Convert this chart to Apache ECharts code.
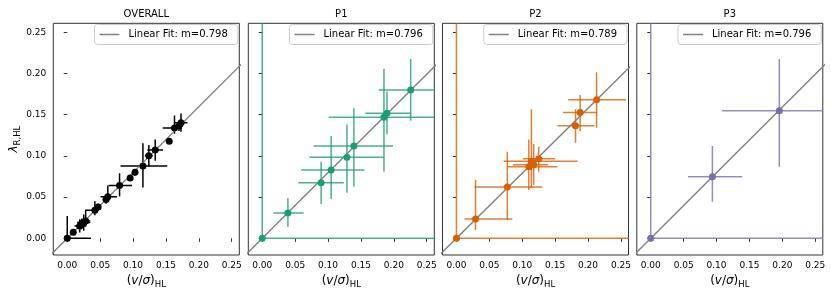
<!DOCTYPE html>
<html><head><meta charset="utf-8">
<script src="https://cdn.jsdelivr.net/npm/echarts@6/dist/echarts.min.js"></script>
<style>html,body{margin:0;padding:0;background:#fff}#c{width:831px;height:297px}</style>
</head><body><div id="c"></div>
<script>
const panelTitles = ['OVERALL', 'P1', 'P2', 'P3'];
const slopes = [0.798, 0.796, 0.789, 0.796];
const tickValues = [0, 0.05, 0.10, 0.15, 0.20, 0.25];

// OVERALL
const ovX   = [0, 0.0091, 0.019, 0.022, 0.025, 0.028, 0.042, 0.047, 0.059, 0.0616, 0.0795, 0.0956, 0.103, 0.115, 0.124, 0.1337, 0.155, 0.163, 0.1698, 0.1729];
const ovY   = [0, 0.0073, 0.015, 0.018, 0.019, 0.021, 0.034, 0.038, 0.047, 0.0505, 0.064, 0.073, 0.080, 0.0877, 0.1002, 0.107, 0.1177, 0.1339, 0.1363, 0.1403];
const ovXLo = [0, 0.002, 0.008, 0.006, 0.010, 0.007, 0.015, 0.004, 0.005, 0.011, 0.0167, 0.003, 0.003, 0.034, 0.006, 0.012, 0, 0.018, 0.006, 0.010];
const ovXHi = [0.036, 0.002, 0.008, 0.006, 0.010, 0.007, 0.004, 0.004, 0.005, 0.014, 0.019, 0.003, 0.003, 0.037, 0.006, 0.012, 0, 0.005, 0.006, 0.010];
const ovYLo = [0, 0.002, 0.008, 0.006, 0.010, 0.007, 0.006, 0.004, 0.005, 0.006, 0.0134, 0.003, 0.004, 0.026, 0.013, 0.013, 0, 0.007, 0.006, 0.011];
const ovYHi = [0.027, 0.002, 0.008, 0.006, 0.010, 0.012, 0.011, 0.004, 0.005, 0.0135, 0.015, 0.003, 0.004, 0.0276, 0.013, 0.013, 0, 0.015, 0.006, 0.011];

// P1
const p1X   = [0, 0.039, 0.0895, 0.1047, 0.1287, 0.1393, 0.185, 0.1896, 0.2256];
const p1Y   = [0, 0.0307, 0.0675, 0.0829, 0.0983, 0.112, 0.1468, 0.1517, 0.18];
const p1XLo = [0, 0.022, 0.0346, 0.0457, 0.057, 0.0615, 0.084, 0.033, 0.0486];
const p1XHi = [0.3, 0.024, 0.0345, 0.0508, 0.0558, 0.0595, 0.084, 0.0356, 0.048];
const p1YLo = [0, 0.017, 0.026, 0.0356, 0.043, 0.0494, 0.066, 0.0257, 0.0373];
const p1YHi = [0.3, 0.0182, 0.0255, 0.0411, 0.0397, 0.0458, 0.059, 0.0263, 0.0376];

// P2
const p2X   = [0, 0.029, 0.0773, 0.110, 0.1139, 0.1174, 0.125, 0.181, 0.188, 0.213];
const p2Y   = [0, 0.0234, 0.0623, 0.0869, 0.0934, 0.0893, 0.0966, 0.1367, 0.1525, 0.168];
const p2XLo = [0, 0.0168, 0.0499, 0.0317, 0.0422, 0.0314, 0.024, 0.0275, 0.026, 0.0432];
const p2XHi = [0.3, 0.0559, 0.0533, 0.0435, 0.0701, 0.0216, 0.025, 0.0284, 0.026, 0.0446];
const p2YLo = [0, 0.0133, 0.0401, 0.0283, 0.0327, 0.0246, 0.0158, 0.0207, 0.0225, 0.034];
const p2YHi = [0.3, 0.0474, 0.0427, 0.0331, 0.0632, 0.0251, 0.0144, 0.0199, 0.0215, 0.0335];

// P3
const p3X   = [0, 0.0937, 0.1954];
const p3Y   = [0, 0.0748, 0.1549];
const p3XLo = [0, 0.037, 0.0869];
const p3XHi = [0.3, 0.0453, 0.0869];
const p3YLo = [0, 0.0304, 0.068];
const p3YHi = [0.3, 0.0372, 0.0627];

const panels = [
  [ovX, ovY, ovXLo, ovXHi, ovYLo, ovYHi],
  [p1X, p1Y, p1XLo, p1XHi, p1YLo, p1YHi],
  [p2X, p2Y, p2XLo, p2XHi, p2YLo, p2YHi],
  [p3X, p3Y, p3XLo, p3XHi, p3YLo, p3YHi]
];
const colors = ['#000000', '#1b9e77', '#d95f02', '#7570b3'];
const barAlpha = [1, 0.8, 0.8, 0.8];

const W = 831;
const FONT = 'DejaVu Sans';
const gridLefts = [53.3, 248.3, 442.5, 636.8];
const gridW = 186, gridTop = 23.3, gridH = 231.7;
const axMin = -0.0212, axMax = 0.2615;
const ayMin = -0.0203, ayMax = 0.2609;

const chart = echarts.init(document.getElementById('c'), null, {renderer: 'canvas'});

const grid = [], xAxis = [], yAxis = [], series = [], title = [], legend = [];
panels.forEach((p, i) => {
  const left = gridLefts[i];
  grid.push({left: left, top: gridTop, width: gridW, height: gridH, show: true,
    borderColor: '#333', borderWidth: 1, backgroundColor: 'transparent'});
  xAxis.push({
    type: 'value', gridIndex: i, min: axMin, max: axMax,
    axisLine: {show: false}, splitLine: {show: false},
    axisTick: {show: true, length: 3.5, lineStyle: {color: '#000', width: 0.8}, customValues: tickValues},
    axisLabel: {show: true, customValues: tickValues, fontSize: 9, color: '#000', fontFamily: FONT, margin: 6,
      formatter: v => v.toFixed(2)},
    name: '{p|(}{i|v}{p|/}{i|σ}{p|)}{s|HL}', nameLocation: 'middle', nameGap: 15,
    nameTextStyle: {fontFamily: FONT, color: '#000', rich: {
      p: {fontSize: 12, fontFamily: FONT, color: '#000'},
      i: {fontSize: 12, fontFamily: FONT, fontStyle: 'italic', color: '#000'},
      s: {fontSize: 8.5, fontFamily: FONT, color: '#000', padding: [7, 0, 0, 0]}
    }}
  });
  yAxis.push({
    type: 'value', gridIndex: i, min: ayMin, max: ayMax,
    axisLine: {show: false}, splitLine: {show: false},
    axisTick: {show: true, length: 3.5, lineStyle: {color: '#000', width: 0.8}, customValues: tickValues},
    axisLabel: {show: i === 0, customValues: tickValues, fontSize: 9, color: '#000', fontFamily: FONT, margin: 7,
      formatter: v => v.toFixed(2)},
    name: i === 0 ? '{i|λ}{s|R,HL}' : '', nameLocation: 'middle', nameRotate: 90, nameGap: 20,
    nameTextStyle: {fontFamily: FONT, color: '#000', rich: {
      i: {fontSize: 12, fontFamily: FONT, fontStyle: 'italic', color: '#000'},
      s: {fontSize: 8.5, fontFamily: FONT, color: '#000', padding: [7, 0, 0, 0]}
    }}
  });
  title.push({text: panelTitles[i], left: left + gridW / 2, top: 9, textAlign: 'center', padding: 0,
    textStyle: {fontSize: 10, fontWeight: 'normal', color: '#000', fontFamily: FONT}});

  const fitName = 'Linear Fit: m=' + slopes[i].toFixed(3);
  const m = slopes[i];
  series.push({
    type: 'line', name: fitName, xAxisIndex: i, yAxisIndex: i, z: 3, clip: true, silent: true,
    symbol: 'none', animation: false,
    itemStyle: {color: '#808080'}, lineStyle: {color: '#808080', width: 1.4},
    data: [[-0.05, -0.05 * m], [0.3, 0.3 * m]]
  });
  legend.push({
    data: [{name: fitName, icon: 'rect'}], selectedMode: false,
    right: W - (left + gridW) + 1.5, top: gridTop + 1.2,
    itemWidth: 20, itemHeight: 1.5,
    textStyle: {fontSize: 10, color: '#000', fontFamily: FONT, padding: [0, 0, 0, 4]},
    borderColor: '#cccccc', borderWidth: 1, borderRadius: 3,
    backgroundColor: 'rgba(255,255,255,0.8)', padding: [5, 10, 5, 5]
  });

  const [xs, ys, xl, xh, yl, yh] = p;
  const color = colors[i], alpha = barAlpha[i];
  series.push({
    type: 'custom', xAxisIndex: i, yAxisIndex: i, clip: true, z: 2, silent: true, animation: false,
    encode: {x: 0, y: 1},
    data: xs.map((x, k) => [x, ys[k], xl[k], xh[k], yl[k], yh[k]]),
    renderItem: function (params, api) {
      const x = api.value(0), y = api.value(1);
      const a = api.coord([x - api.value(2), y]), b = api.coord([x + api.value(3), y]);
      const c = api.coord([x, y - api.value(4)]), d = api.coord([x, y + api.value(5)]);
      return {type: 'group', children: [
        {type: 'line', shape: {x1: a[0], y1: a[1], x2: b[0], y2: b[1]}, style: {stroke: color, lineWidth: 1.5, opacity: alpha}},
        {type: 'line', shape: {x1: c[0], y1: c[1], x2: d[0], y2: d[1]}, style: {stroke: color, lineWidth: 1.5, opacity: alpha}}
      ]};
    }
  });
  series.push({
    type: 'scatter', xAxisIndex: i, yAxisIndex: i, z: 4, silent: true, animation: false,
    symbol: 'circle', symbolSize: 7, itemStyle: {color: color, opacity: 1},
    data: xs.map((x, k) => [x, ys[k]])
  });
});

chart.setOption({animation: false, grid, xAxis, yAxis, series, title, legend});
</script></body></html>
